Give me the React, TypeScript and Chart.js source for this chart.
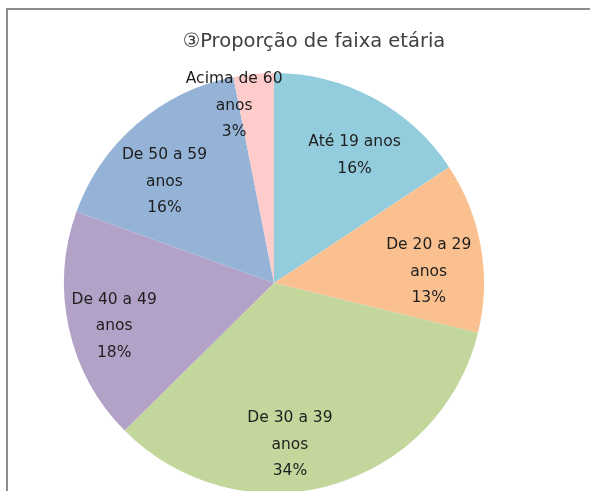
import React, { useEffect, useRef } from 'react';
import { Chart, registerables } from 'chart.js';

Chart.register(...registerables);

const chartTitle = '③Proporção de faixa etária';
const categories = ['Até 19 anos', 'De 20 a 29 anos', 'De 30 a 39 anos', 'De 40 a 49 anos', 'De 50 a 59 anos', 'Acima de 60 anos'];
const shares = [15.7, 13.1, 33.8, 17.9, 16.4, 3.1];
const sliceColors = ['#93CDDD', '#FAC090', '#C3D69B', '#B3A2C7', '#95B3D7', '#FFCCCC'];

const labelFont = '15.5px "DejaVu Sans", sans-serif';
const labelRadius = [0.73, 0.74, 0.76, 0.785, 0.72, 0.88];
const labelAngleShift = [0.06, 0.08, 0.17, -0.03, -0.1, -0.12];

function wrapText(ctx: CanvasRenderingContext2D, text: string, maxW: number): string[] {
  const words = text.split(' ');
  const lines: string[] = [];
  let cur = '';
  for (const w of words) {
    const test = cur ? cur + ' ' + w : w;
    if (cur && ctx.measureText(test).width > maxW) {
      lines.push(cur);
      cur = w;
    } else {
      cur = test;
    }
  }
  if (cur) lines.push(cur);
  return lines;
}

const labelPlugin = {
  id: 'sliceLabels',
  afterDatasetsDraw(chart: any) {
    const ctx: CanvasRenderingContext2D = chart.ctx;
    const meta = chart.getDatasetMeta(0);
    const data: number[] = chart.data.datasets[0].data;
    const total = data.reduce((a, b) => a + b, 0);
    ctx.save();
    ctx.font = labelFont;
    ctx.fillStyle = '#1e1e1e';
    ctx.textAlign = 'center';
    ctx.textBaseline = 'middle';
    meta.data.forEach((arc: any, i: number) => {
      const p = arc.getProps(['x', 'y', 'startAngle', 'endAngle', 'outerRadius'], true);
      const mid = (p.startAngle + p.endAngle) / 2 + labelAngleShift[i];
      const r = p.outerRadius * labelRadius[i];
      const cx = p.x + Math.cos(mid) * r;
      const cy = p.y + Math.sin(mid) * r + 3;
      const lines = wrapText(ctx, chart.data.labels[i], 104);
      lines.push(Math.round((data[i] / total) * 100) + '%');
      const lh = 26.5;
      lines.forEach((l, k) => {
        ctx.fillText(l, cx, cy + (k - (lines.length - 1) / 2) * lh);
      });
    });
    ctx.restore();
  },
};

const titlePlugin = {
  id: 'plainTitle',
  afterDraw(chart: any) {
    const ctx: CanvasRenderingContext2D = chart.ctx;
    ctx.save();
    ctx.font = '19.5px "DejaVu Sans", sans-serif';
    ctx.fillStyle = '#404040';
    ctx.textAlign = 'center';
    ctx.textBaseline = 'middle';
    ctx.fillText(chartTitle, 314, 42);
    ctx.restore();
  },
};

export default function App() {
  const ref = useRef<HTMLCanvasElement>(null);
  useEffect(() => {
    if (!ref.current) return;
    const chart = new Chart(ref.current, {
      type: 'pie',
      data: {
        labels: categories,
        datasets: [
          {
            data: shares,
            backgroundColor: sliceColors,
            borderWidth: 0,
          },
        ],
      },
      options: {
        responsive: false,
        animation: false,
        layout: { padding: { left: 64, right: 106, top: 73, bottom: 7 } },
        plugins: {
          legend: { display: false },
          tooltip: { enabled: false },
          title: { display: false },
        },
      },
      plugins: [labelPlugin, titlePlugin],
    });
    return () => chart.destroy();
  }, []);
  return (
    <div style={{ position: 'absolute', left: 0, top: 0, width: 590, height: 491, overflow: 'hidden', background: '#fff' }}>
      <canvas ref={ref} width={590} height={500} style={{ position: 'absolute', left: 0, top: 0, width: 590, height: 500 }} />
      <div
        style={{
          position: 'absolute',
          left: 6,
          top: 8,
          width: 620,
          height: 520,
          borderTop: '2px solid #8c8c8c',
          borderLeft: '2px solid #8c8c8c',
          boxSizing: 'border-box',
        }}
      />
    </div>
  );
}
